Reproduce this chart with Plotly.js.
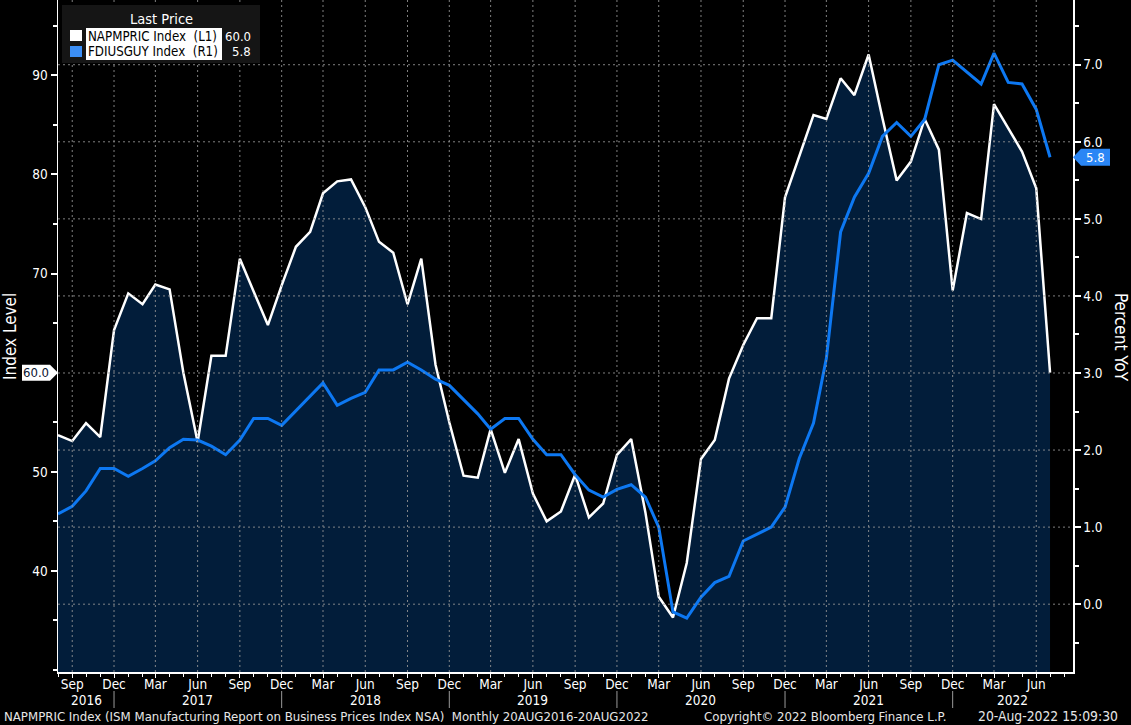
<!DOCTYPE html>
<html>
<head>
<meta charset="utf-8">
<script src="https://cdn.plot.ly/plotly-3.0.1.min.js"></script>
<style>
  html, body { margin: 0; padding: 0; background: #000; }
  #chart { width: 1131px; height: 725px; }
</style>
</head>
<body>
<div id="chart"></div>
<script>
// monthly, Aug 2016 .. Jul 2022
const startYear = 2016, startMonth = 8;

// NAPMPRIC Index (left axis)
const napmpric = [
  53.7, 53.1, 54.9, 53.5, 64.3,
  68.0, 66.9, 68.9, 68.4, 60.0, 53.0, 61.7, 61.7, 71.5, 68.2, 64.8, 68.8,
  72.7, 74.2, 78.1, 79.3, 79.5, 76.7, 73.2, 72.1, 66.9, 71.5, 60.8, 55.0,
  49.6, 49.4, 54.3, 49.9, 53.3, 47.8, 45.0, 46.0, 49.7, 45.4, 46.8, 51.7,
  53.3, 45.9, 37.4, 35.3, 40.8, 51.3, 53.2, 59.4, 62.8, 65.5, 65.5, 77.7,
  81.9, 86.0, 85.6, 89.7, 88.0, 92.1, 85.7, 79.4, 81.3, 85.6, 82.5, 68.3,
  76.1, 75.5, 87.1, 84.7, 82.3, 78.6, 60.0
];

// FDIUSGUY Index (right axis, percent YoY)
const fdiusguy = [
  1.17, 1.27, 1.47, 1.76, 1.76,
  1.66, 1.76, 1.86, 2.03, 2.14, 2.13, 2.05, 1.94, 2.13, 2.41, 2.41, 2.32,
  2.51, 2.69, 2.87, 2.58, 2.67, 2.75, 3.04, 3.04, 3.14, 3.04, 2.92, 2.84,
  2.65, 2.47, 2.27, 2.41, 2.41, 2.14, 1.94, 1.94, 1.68, 1.48, 1.39, 1.49,
  1.55, 1.39, 1.00, -0.10, -0.18, 0.09, 0.28, 0.36, 0.82, 0.91, 1.00, 1.26,
  1.89, 2.35, 3.19, 4.83, 5.28, 5.59, 6.07, 6.25, 6.07, 6.29, 7.00, 7.06,
  6.90, 6.75, 7.15, 6.77, 6.75, 6.42, 5.80
];

const quarterMonths = ['Sep', 'Dec', 'Mar', 'Jun'];
const yearLabels = ['2016', '2017', '2018', '2019', '2020', '2021', '2022'];
const yearCenters = ['2016-10-01', '2017-06-01', '2018-06-01', '2019-06-01', '2020-06-01', '2021-06-01', '2022-04-10'];
const yearBreaks = ['2016-12-01', '2017-12-01', '2018-12-01', '2019-12-01', '2020-12-01', '2021-12-01'];
const leftTicks = [40, 50, 60, 70, 80, 90];
const rightTicks = [0, 1, 2, 3, 4, 5, 6, 7];

const pad = n => (n < 10 ? '0' : '') + n;
const dates = napmpric.map((_, i) => {
  const m = startMonth - 1 + i;
  return (startYear + Math.floor(m / 12)) + '-' + pad(m % 12 + 1) + '-01';
});

// quarterly ticks Sep 2016 .. Jun 2022
const tickVals = [], tickText = [];
for (let i = 1; i < dates.length; i += 3) {
  tickVals.push(dates[i]);
  tickText.push(quarterMonths[((i - 1) / 3) % 4]);
}

const W = 1131, H = 725, ML = 58, MR = 58, MT = 0, MB = 53;
const PW = W - ML - MR, PH = H - MT - MB;
const xRange = ['2016-08-01', '2022-08-20'];
const yRange = [29.8, 97.6];
const y2Range = [-0.88, 7.84];

const fx = x => (x - ML) / PW;
const fy = y => (MT + PH - y) / PH;
const pixL = v => MT + (yRange[1] - v) / (yRange[1] - yRange[0]) * PH;
const pixR = v => MT + (y2Range[1] - v) / (y2Range[1] - y2Range[0]) * PH;

const FONT = 'DejaVu Sans Condensed, DejaVu Sans, sans-serif';
const GRID = 'rgba(150,150,150,0.85)';
const BLUE = '#0d78f2';

const traces = [
  {
    x: dates, y: napmpric, yaxis: 'y', type: 'scatter', mode: 'lines',
    line: {color: '#ffffff', width: 2.5},
    fill: 'tozeroy', fillcolor: 'rgb(2,29,58)',
    hoverinfo: 'skip'
  },
  {
    x: dates, y: fdiusguy, yaxis: 'y2', type: 'scatter', mode: 'lines',
    line: {color: BLUE, width: 3},
    hoverinfo: 'skip'
  }
];

const shapes = [];
// grid lines drawn on top of the fill
tickVals.forEach(d => shapes.push({
  type: 'line', xref: 'x', yref: 'paper', x0: d, x1: d, y0: 0, y1: 1,
  line: {color: GRID, width: 1, dash: '2px,3px'}, layer: 'above'
}));
rightTicks.forEach(v => shapes.push({
  type: 'line', xref: 'paper', yref: 'y2', x0: 0, x1: 1, y0: v, y1: v,
  line: {color: GRID, width: 1, dash: '2px,3px'}, layer: 'above'
}));
// year separators
yearBreaks.forEach(d => shapes.push({
  type: 'line', xref: 'x', yref: 'paper', x0: d, x1: d, y0: fy(691), y1: fy(708),
  line: {color: '#9a9a9a', width: 1}
}));

// legend box
shapes.push({type: 'rect', xref: 'paper', yref: 'paper', x0: fx(62), x1: fx(260), y0: fy(5), y1: fy(63),
  fillcolor: '#151515', line: {width: 0}, layer: 'above'});
shapes.push({type: 'rect', xref: 'paper', yref: 'paper', x0: fx(70), x1: fx(82), y0: fy(30), y1: fy(41),
  fillcolor: '#ffffff', line: {width: 0}, layer: 'above'});
shapes.push({type: 'rect', xref: 'paper', yref: 'paper', x0: fx(70), x1: fx(82), y0: fy(46), y1: fy(57),
  fillcolor: '#3b8ef5', line: {width: 0}, layer: 'above'});
shapes.push({type: 'rect', xref: 'paper', yref: 'paper', x0: fx(86), x1: fx(222), y0: fy(28), y1: fy(44),
  fillcolor: '#ffffff', line: {width: 0}, layer: 'above'});
shapes.push({type: 'rect', xref: 'paper', yref: 'paper', x0: fx(86), x1: fx(222), y0: fy(44), y1: fy(60),
  fillcolor: '#ffffff', line: {width: 0}, layer: 'above'});

// last value tags
const lastL = napmpric[napmpric.length - 1];
const lastR = fdiusguy[fdiusguy.length - 1];
const tl = pixL(lastL), tr = pixR(lastR);
const pathOf = pts => 'M ' + pts.map(p => fx(p[0]) + ',' + fy(p[1])).join(' L ') + ' Z';
shapes.push({type: 'path', xref: 'paper', yref: 'paper', layer: 'above',
  path: pathOf([[22, tl - 8], [50, tl - 8], [58, tl], [50, tl + 8], [22, tl + 8]]),
  fillcolor: '#ffffff', line: {width: 0}});
shapes.push({type: 'path', xref: 'paper', yref: 'paper', layer: 'above',
  path: pathOf([[1073, tr], [1081, tr - 8.5], [1110, tr - 8.5], [1110, tr + 8.5], [1081, tr + 8.5]]),
  fillcolor: '#2a86f5', line: {width: 0}});

const ann = (x, y, text, opts) => Object.assign({
  xref: 'paper', yref: 'paper', x: fx(x), y: fy(y), text: text, showarrow: false,
  xanchor: 'left', yanchor: 'middle', font: {family: FONT, size: 13, color: '#ffffff'}
}, opts || {});

const annotations = [
  ann(161, 19, 'Last Price', {xanchor: 'center', font: {family: FONT, size: 14.5, color: '#ffffff'}}),
  ann(86, 36, 'NAPMPRIC Index\u00a0\u00a0(L1)', {font: {family: FONT, size: 13.2, color: '#000000'}}),
  ann(86, 52, 'FDIUSGUY Index\u00a0\u00a0(R1)', {font: {family: FONT, size: 13.2, color: '#000000'}}),
  ann(253, 36, lastL.toFixed(1), {xanchor: 'right', font: {family: FONT, size: 13, color: '#ffffff'}}),
  ann(253, 52, lastR.toFixed(1), {xanchor: 'right', font: {family: FONT, size: 13, color: '#ffffff'}}),
  ann(36, tl, lastL.toFixed(1), {xanchor: 'center', font: {family: FONT, size: 13, color: '#0a1430'}}),
  ann(1095, tr, lastR.toFixed(1), {xanchor: 'center', font: {family: FONT, size: 13, color: '#ffffff'}}),
  ann(10, 337, 'Index Level', {xanchor: 'center', textangle: -90, font: {family: FONT, size: 17, color: '#ffffff'}}),
  ann(1121, 337, 'Percent YoY', {xanchor: 'center', textangle: 90, font: {family: FONT, size: 17, color: '#ffffff'}}),
  ann(2, 716, 'NAPMPRIC Index (ISM Manufacturing Report on Business Prices Index NSA)\u00a0\u00a0Monthly 20AUG2016-20AUG2022',
    {font: {family: FONT, size: 13.1, color: '#e6e6e6'}}),
  ann(702, 716, 'Copyright\u00a9 2022 Bloomberg Finance L.P.', {font: {family: FONT, size: 13.1, color: '#e6e6e6'}}),
  ann(1120, 716, '20-Aug-2022 15:09:30', {xanchor: 'right', font: {family: FONT, size: 13.8, color: '#e6e6e6'}})
];
yearLabels.forEach((t, i) => annotations.push({
  xref: 'x', yref: 'paper', x: yearCenters[i], y: fy(700), text: t, showarrow: false,
  xanchor: 'center', yanchor: 'middle', font: {family: FONT, size: 13.5, color: '#ffffff'}
}));

const layout = {
  width: W, height: H,
  margin: {l: ML, r: MR, t: MT, b: MB, pad: 0},
  paper_bgcolor: '#000000', plot_bgcolor: '#000000',
  showlegend: false,
  font: {family: FONT, size: 12, color: '#ffffff'},
  xaxis: {
    type: 'date', range: xRange,
    tickvals: tickVals, ticktext: tickText,
    ticks: 'outside', ticklen: 4, tickcolor: '#ffffff', tickwidth: 1,
    ticklabelstandoff: -5,
    minor: {dtick: 'M1', tick0: '2016-08-01', ticks: 'outside', ticklen: 3, tickcolor: '#ffffff', showgrid: false},
    showgrid: false, zeroline: false,
    showline: true, linecolor: '#ffffff', linewidth: 1.5,
    tickfont: {family: FONT, size: 13.5, color: '#ffffff'}
  },
  yaxis: {
    range: yRange, tickvals: leftTicks,
    ticks: 'outside', ticklen: 6, tickwidth: 2, tickcolor: '#ffffff',
    minor: {dtick: 5, tick0: 0, ticks: 'outside', ticklen: 4, tickcolor: '#ffffff', showgrid: false},
    showgrid: false, zeroline: false,
    showline: true, linecolor: '#ffffff', linewidth: 1.5,
    tickfont: {family: FONT, size: 13.5, color: '#ffffff'}
  },
  yaxis2: {
    overlaying: 'y', side: 'right',
    range: y2Range, tickvals: rightTicks, tickformat: '.1f',
    ticks: 'outside', ticklen: 6, tickwidth: 2, tickcolor: '#ffffff',
    minor: {dtick: 0.5, tick0: 0, ticks: 'outside', ticklen: 4, tickcolor: '#ffffff', showgrid: false},
    showgrid: false, zeroline: false,
    showline: true, linecolor: '#ffffff', linewidth: 1.5,
    tickfont: {family: FONT, size: 13.5, color: '#ffffff'}
  },
  shapes: shapes,
  annotations: annotations
};

Plotly.newPlot('chart', traces, layout, {staticPlot: true, displayModeBar: false});
</script>
</body>
</html>
